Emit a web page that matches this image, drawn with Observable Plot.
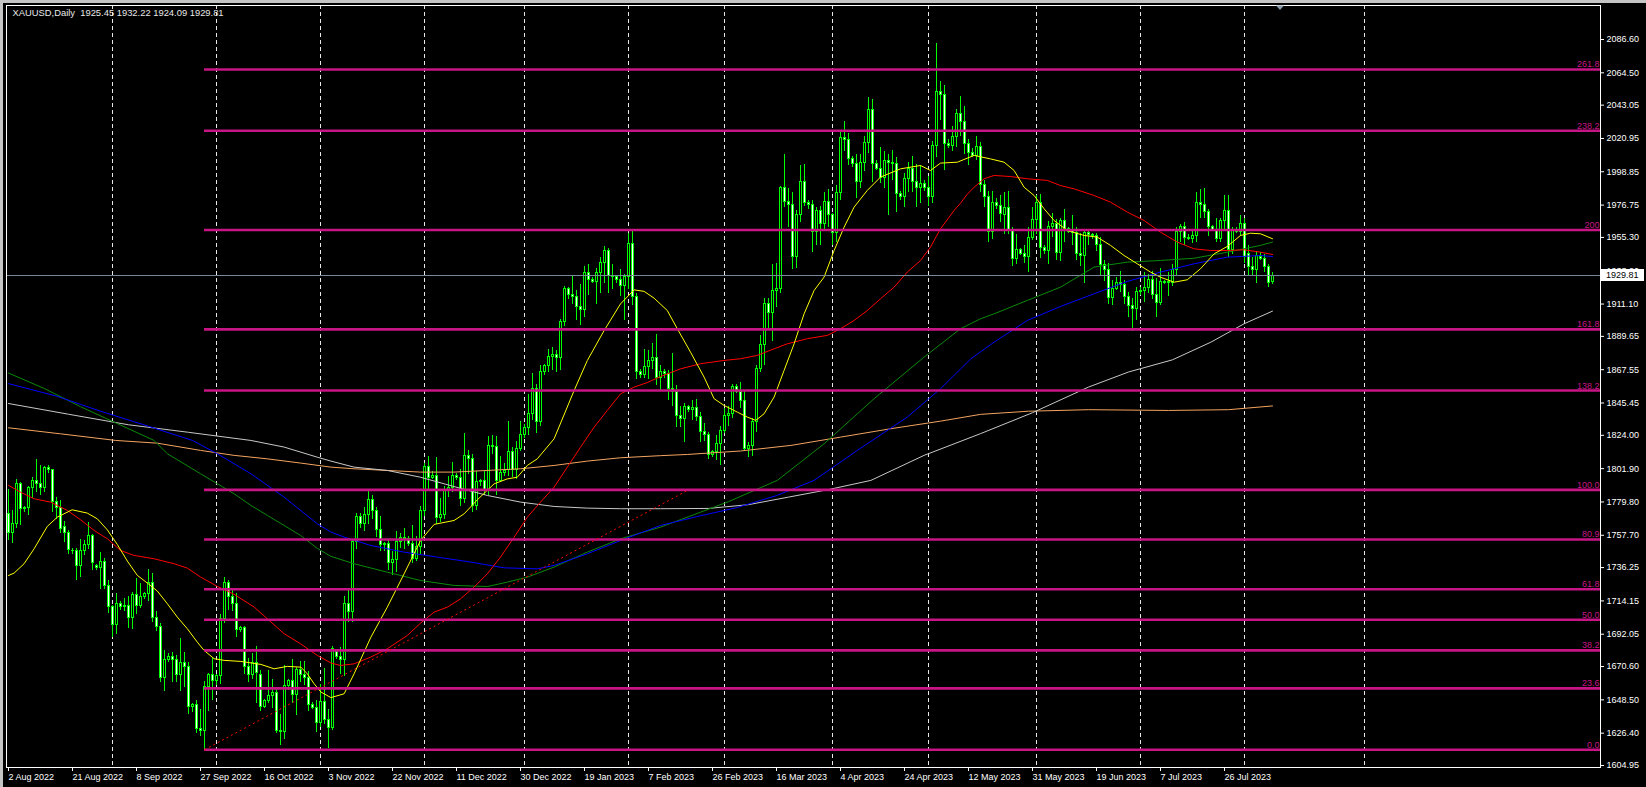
<!DOCTYPE html>
<html><head><meta charset="utf-8">
<script src="https://cdn.jsdelivr.net/npm/d3@7"></script>
<script src="https://cdn.jsdelivr.net/npm/@observablehq/plot@0.6"></script>
<style>
html,body{margin:0;padding:0;background:#000;overflow:hidden;}
#wrap{position:relative;width:1646px;height:787px;}
#wrap svg{position:absolute;left:0;top:0;}
.bt{position:absolute;left:0;top:0;width:1646px;height:3px;background:#c4c4c4;z-index:2;}
.bl{position:absolute;left:0;top:0;width:3px;height:787px;background:#c4c4c4;z-index:2;}
</style></head><body><div id="wrap"><div class="bt"></div><div class="bl"></div></div>
<script>
// ---------- DATA ----------
const titleText = "XAUUSD,Daily  1925.45 1932.22 1924.09 1929.81";

// Daily bars (bar index 0 = 2 Aug 2022 ... 316 = 9 Aug 2023)
const opens = [
1772,1759,1765,1792,1775,1776,1789,1794,1792,1789,1802,1801,1779.5,1776,1763,1759,1747,1747,1737,1747,
1751,1757,1737,1736,1740,1724,1710,1698,1712,1710,1711,1703,1718,1711,1717,1719,1726,1703,1697,1663,
1675,1677,1675,1665,1673,1670,1644,1645,1629,1628,1657,1665,1661,1664,1702,1726,1717,1712,1695,1696,
1670,1665,1673,1665,1644,1648,1651,1653,1628,1627,1658,1661,1652,1668,1665,1663,1645,1643,1633,1647,
1635,1630,1680,1677,1675,1712,1707,1753,1770,1765,1771,1781,1774,1761,1751,1752,1739,1741,1753,1756,
1755,1752,1742,1750,1774,1803,1796,1797,1769,1771,1788,1789,1797,1796,1782,1810,1808,1777,1793,1794,
1787,1817,1816,1794,1799,1801,1813,1801,1815,1824,1829,1838,1855,1833,1866,1870,1876,1877,1875,1899,
1921,1917,1916,1909,1907,1932,1927,1926,1932,1938,1946,1930,1929,1927,1923,1929,1951,1916,1866,1864,
1869,1873,1875,1862,1866,1865,1855,1853,1837,1835,1843,1841,1842,1836,1826,1824,1811,1813,1818,1827,
1837,1838,1856,1853,1847,1815,1817,1833,1868,1884,1911,1905,1920,1921,1988,1979,1977,1942,1970,1992,
1978,1977,1959,1973,1964,1979,1970,1958,1985,2021,2020,2007,2004,1992,2005,2018,2040,2004,2001,1995,
2006,2005,2004,1984,1982,1994,2001,1992,1988,1991,1988,1982,2016,2052,2050,2017,2016,2022,2037,2032,
2017,2011,2009,2015,1990,1982,1959,1978,1976,1970,1975,1960,1941,1947,1944,1942,1955,1967,1978,1948,
1946,1962,1964,1945,1966,1961,1960,1958,1944,1943,1958,1957,1956,1950,1937,1934,1915,1921,1925,1924,
1916,1910,1908,1919,1920,1922,1927,1917,1912,1926,1925,1925,1934,1959,1962,1955,1954,1956,1978,1977,
1972,1962,1960,1954,1966,1973,1947,1960,1959,1964,1944,1936,1934,1942,1941,1936,1925.45];
const highs = [
1788,1774,1795,1793,1777,1790,1796,1808,1804,1803,1804,1801.5,1783,1781,1767,1761,1749,1749,1755,1754,
1766,1758,1738,1746.5,1742,1728,1711,1719,1714,1716,1717,1720,1729,1726,1720,1735,1732,1707,1699,1681,
1679,1680,1678,1689,1680,1673,1646,1648,1642,1661,1666,1676,1665,1705,1730,1728,1721,1719,1697,1697,
1676,1679,1684,1668,1649,1668,1662,1656,1639,1671,1662,1675,1670,1674,1674,1667,1647,1648,1659,1669,
1642,1684,1682,1683,1717,1722,1755,1772,1772,1776,1787,1784,1776,1770,1753,1754,1747,1760,1759,1762,
1757,1764,1757,1777,1805,1810,1800,1809,1782,1790,1797,1806,1799,1801,1825,1814,1811,1800,1795,1800,
1823,1824,1823,1810,1805,1833,1816,1820,1833,1831,1851,1865,1858,1870,1871,1881,1882,1880,1901,1923,
1922,1930,1920,1924,1936,1937,1929,1935,1942,1949,1948,1937,1930,1934,1931,1958,1960,1918,1868,1881,
1880,1885,1891,1870,1868,1867,1878,1857,1843,1845,1844,1847,1848,1839,1832,1826,1814,1824,1830,1842,
1843,1858,1858,1859,1853,1819,1835,1870,1890,1915,1915,1937,1938,1989,2010,1988,1985,1973,2003,2004,
1980,1980,1975,1976,1985,1987,1971,1990,2026,2032,2024,2009,2010,2010,2022,2048,2047,2006,2015,2012,
2010,2013,2008,1986,1998,2005,2009,2004,2003,1993,1996,2019,2084,2059,2056,2020,2029,2040,2049,2042,
2020,2014,2022,2018,1993,1986,1986,1981,1983,1985,1986,1962,1957,1948,1950,1962,1975,1983,1984,1950,
1966,1971,1967,1968,1974,1962,1970,1962,1958,1960,1960,1958,1958,1955,1940,1938,1927,1929,1933,1927,
1919,1915,1922,1922,1932,1931,1933,1928,1935,1927,1932,1937,1962,1964,1965,1957,1959,1985,1987,1988,
1974,1963,1968,1968,1983,1983,1962,1962,1970,1968,1950,1942,1946,1945,1944,1937,1932.22];
const lows = [
1754,1752,1762,1764,1773,1771,1782,1786,1784,1786,1799,1773,1768,1759,1753,1745,1745,1728,1730,1744,
1748,1734,1734,1722,1722,1706,1690,1692,1708,1707,1696,1695,1705,1709,1715,1714,1700,1694,1660,1654,
1673,1660,1660,1654,1657,1639,1640,1626,1624,1615,1641,1648,1658,1659,1699,1708,1707,1690,1693,1665,
1660,1662,1646,1641,1643,1646,1643,1626,1618,1622,1655,1646,1638,1660,1658,1641,1642,1627,1630,1632,
1616.5,1628,1675,1665,1664,1700,1700,1748,1762,1760,1765,1768,1756,1747,1747,1734,1731,1733,1749,1748,
1750,1739,1740,1745,1770,1787,1795,1765,1766,1768,1783,1786,1794,1777,1779,1798,1773,1774,1790,1784,
1784,1811,1784,1793,1797,1797,1796,1795,1813,1822,1824,1834,1825,1830,1864,1866,1867,1866,1867,1896,
1914,1911,1900,1897,1902,1917,1925,1911,1918,1925,1918,1921,1925,1916,1900,1921,1910,1861,1862,1862,
1861,1868,1857,1853,1862,1847,1843,1829,1829,1819,1839,1834,1833,1819,1820,1808,1809,1807,1804,1825,
1830,1835,1852,1842,1813,1809,1810,1826,1866,1870,1895,1886,1909,1918,1975,1962,1934,1935,1965,1976,
1974,1945,1950,1950,1960,1962,1950,1952,1980,2012,2003,2002,1981,1988,1999,2011,1992,2000,1991,1988,
1970,1993,1972,1980,1975,1985,1985,1975,1978,1986,1976,1978,2008,2033,2000,2014,2012,2015,2022,2010,
2003,2008,2006,1985,1975,1952,1954,1974,1965,1957,1957,1936,1937,1943,1938,1932,1953,1957,1941,1944,
1937,1955,1940,1939,1952,1958,1950,1940,1936,1925,1950,1954,1946,1930,1926,1911,1910,1920,1919,1911,
1902,1893,1900,1917,1912,1918,1914,1902,1910,1924,1916,1923,1930,1952,1950,1953,1951,1952,1968,1968,
1956,1959,1952,1952,1960,1942,1944,1958,1956,1938,1930,1930,1925,1940,1932,1922,1924.09];
const closes = [
1759,1765,1792,1775,1776,1789,1794,1792,1789,1802,1801,1779.5,1776,1762,1759,1748,1747.5,1737,1747,1751,
1757,1739,1736,1740,1724,1710,1698,1712,1710,1711,1703,1718,1711,1717,1719,1726,1703,1697,1663,1675,
1677,1675,1665,1673,1670,1644,1645,1629,1628,1657,1665,1661,1664,1702,1726,1717,1712,1695,1696,1670,
1665,1673,1666,1644,1648,1651,1653,1628,1627,1658,1661,1652,1668,1665,1663,1645,1643,1633,1647,1635,
1630,1682,1677,1675,1712,1707,1753,1770,1765,1771,1781,1774,1761,1751,1752,1739,1741,1753,1756,1755,
1752,1742,1750,1774,1803,1796,1797,1769,1771,1788,1789,1797,1796,1782,1810,1808,1777,1793,1794,1787,
1817,1816,1794,1799,1800.5,1813,1801,1815,1824,1829,1838,1855,1833,1866,1870,1876,1877,1875,1899,1921,
1917,1916,1909,1907,1932,1927,1926,1932,1938,1946,1930,1929,1927,1923,1929,1951,1916,1866,1864,1869,
1873,1875,1862,1866,1865,1855,1853,1837,1835,1843,1841,1842,1836,1826,1824,1811,1813,1818,1827,1837,
1838,1856,1853,1847,1815,1817,1833,1868,1884,1911,1905,1920,1921,1988,1979,1977,1942,1970,1992,1978,
1977,1959,1973,1964,1979,1970,1958,1985,2021,2020,2007,2004,1992,2005,2018,2040,2004,2001,1995,2006,
2005,2004,1984,1982,1994,2001,1992,1988,1991,1988,1982,2016,2052,2050,2017,2016,2022,2037,2032,2017,
2011,2009,2015,1990,1982,1959,1978,1976,1971,1975,1960,1941,1947,1944,1942,1955,1967,1978,1948,1946,
1962,1964,1945,1966,1961,1959,1958,1944,1943,1958,1957,1956,1950,1937,1934,1915,1921,1925,1924,1916,
1910,1908,1919,1920,1922,1927,1917,1912,1926,1925,1925.6,1934,1959,1962,1955,1954,1956,1978,1977,1972,
1962,1960,1954,1966,1973,1947,1960,1959,1964,1942,1936,1934,1943,1941,1936,1925,1929.81];

// x-axis tick labels (every 16 bars)
const xTickBars = [0,16,32,48,64,80,96,112,128,144,160,176,192,208,224,240,256,272,288,304];
const xTickLabels = ["2 Aug 2022","21 Aug 2022","8 Sep 2022","27 Sep 2022","16 Oct 2022","3 Nov 2022",
  "22 Nov 2022","11 Dec 2022","30 Dec 2022","19 Jan 2023","7 Feb 2023","26 Feb 2023","16 Mar 2023",
  "4 Apr 2023","24 Apr 2023","12 May 2023","31 May 2023","19 Jun 2023","7 Jul 2023","26 Jul 2023"];
// y-axis tick labels
const yTicks = [2086.60,2064.50,2043.05,2020.95,1998.85,1976.75,1955.30,1933.20,1911.10,1889.65,1867.55,
  1845.45,1824.00,1801.90,1779.80,1757.70,1736.25,1714.15,1692.05,1670.60,1648.50,1626.40,1604.95];
// monthly separators (first bar of each month)
const gridBars = [26,52,78,104,129,155,179,206,230,257,283,309,339];

// Fibonacci retracement
const fibLabels = ["0.0","23.6","38.2","50.0","61.8","80.9","100.0","138.2","161.8","200","238.2","261.8"];
const fibPrices = [1615.4,1656.1,1681.3,1701.6,1721.9,1754.9,1787.8,1853.7,1894.3,1960.2,2026.1,2066.7];
const fibStartBar = 49;
const fibAnchorBars = [49, 170];
const fibAnchorPrices = [1615.4, 1787.8];

// moving averages: [bar, price]
const maYellow = [[0,1731],[1.4,1732.6],[3.9,1738.8],[6.4,1748.7],[9.7,1763.6],[12.2,1769.7],[15.9,1774.6],[19.7,1772.4],[22.2,1768.6],[24.7,1761.3],[27.2,1751.6],[29.7,1740.6],[32.2,1731.1],[34.7,1726],[37.2,1720.7],[39.7,1712.3],[42.2,1703.4],[44.7,1695.7],[47.2,1686.8],[48.9,1681.3],[51.4,1675.8],[53.9,1674.7],[58.1,1674],[63.1,1672],[66.4,1669.1],[69.7,1670.7],[73.1,1670.2],[74.7,1665.8],[76.4,1659.2],[78.1,1653.7],[80.6,1650],[83.9,1652.5],[86.4,1665.8],[90.6,1690.1],[94.7,1710],[98.9,1732.1],[103,1754.2],[106.4,1764.9],[111.4,1767.5],[113.9,1771.9],[117.2,1781.2],[121.4,1791.8],[124.7,1795.1],[127.2,1796.2],[129.7,1804],[132.2,1808.4],[136.4,1821.7],[141.4,1853.7],[144.7,1873.6],[148.9,1893.5],[153,1911.2],[156.4,1920.5],[158.9,1919.5],[161.4,1915],[164.7,1906.8],[167.2,1894.7],[170.5,1879.2],[173.9,1862.6],[176.4,1848.3],[178.9,1843.8],[182.2,1839.4],[184.7,1836.1],[186.8,1833.9],[188.9,1838.3],[191.4,1849.4],[193.9,1867.1],[196.4,1884.7],[198.9,1904.6],[201.4,1920.1],[203.9,1929],[206.4,1946.6],[208.9,1962.1],[211.4,1975.4],[214.7,1986.5],[218,1995.3],[223,2000.8],[228,2003],[230.5,1999.7],[233,2004.6],[237.2,2005.2],[241.4,2009.7],[245.5,2007.4],[248.9,2005.2],[251.4,1999.7],[253.9,1988.6],[256.4,1983.1],[258.9,1974.3],[261.4,1966.5],[264.7,1959.9],[268.9,1956.6],[272.2,1955.5],[275.5,1950],[278.9,1943.3],[282.2,1937.8],[285.5,1932.3],[288,1928.9],[291.4,1925.6],[294.7,1927.2],[298,1934.5],[301.4,1944.4],[304.7,1949.3],[308,1956.6],[310.5,1958.1],[313,1957.7],[316,1954.4]];
const maRed = [[0,1790.8],[3,1786.3],[6.4,1781.9],[10.5,1779.7],[14.7,1774.2],[18,1768],[21.4,1760.9],[24.7,1755.4],[28,1747.6],[31.4,1744.3],[36.4,1742.1],[41.4,1738.8],[44.7,1735.9],[48,1730],[52.2,1723.8],[56.4,1718.5],[61.4,1710.1],[64.7,1702.3],[68.9,1692.4],[73,1685.7],[77.2,1678],[80.6,1673],[83,1671.3],[86.4,1672.4],[90.6,1676.9],[94.7,1682.4],[99.7,1691.2],[103,1699.4],[106.4,1706.7],[109.7,1710],[113,1715.5],[116.4,1723.3],[119.7,1732.1],[123,1743.2],[126.4,1756.4],[129.7,1769.7],[133,1779.7],[136.4,1789.6],[139.7,1802.9],[143,1816.1],[146.4,1829.4],[149.7,1840.5],[153,1851.5],[156.4,1856],[159.7,1859],[163,1863],[168,1868.1],[173,1871.5],[178.9,1873.7],[183,1874.8],[187.2,1877],[191.4,1881.4],[194.7,1884.7],[199.7,1888.1],[204.7,1890.3],[208,1894.7],[211.4,1900.2],[214.7,1906.8],[218,1914.6],[221.4,1922.3],[224.7,1932.3],[228,1940],[230.5,1948.9],[233,1961],[236.4,1973.2],[238,1978],[239.7,1984],[241.4,1988.6],[243.9,1994.2],[246.4,1996.4],[250.5,1995.7],[254.7,1994.2],[259.7,1993.1],[263,1989.7],[266.4,1987.5],[271.4,1983.1],[275.5,1978.7],[279.7,1972.1],[283.9,1966.5],[288,1958.8],[292.2,1952.2],[296.4,1947.7],[300.5,1946.6],[304.7,1946.6],[308.9,1947.1],[313,1945.5],[316,1944]];
const maGreen = [[0,1865.3],[9,1855],[18,1843],[27,1832],[36.4,1820.6],[39.7,1811.8],[43.9,1805.1],[48,1798.5],[52.2,1791.9],[56.4,1785.2],[60.6,1777.5],[64.7,1770.9],[68.9,1764.2],[73,1757.6],[77.2,1749],[80.6,1743.7],[86.4,1738.8],[94.7,1733.2],[103,1727.7],[111.4,1724.4],[119.7,1723.7],[124.7,1726.6],[129.7,1729.9],[136.4,1736.6],[144.7,1746.5],[153,1755.3],[163,1763.1],[170,1770],[180,1780],[192.2,1794.1],[203.9,1818.4],[216.4,1848.3],[228.9,1875.9],[238,1894.7],[243,1901.3],[246.4,1904.6],[254.7,1913.5],[263,1922.3],[271.4,1935.6],[279.7,1938.9],[288,1940],[296.4,1941.5],[304.7,1945.5],[313,1950],[316,1952.2]];
const maBlue = [[0,1858.3],[12,1850],[23,1840],[35,1830],[46,1820.6],[52.2,1811.8],[60.6,1798.5],[68.9,1783],[77.2,1765.3],[80.6,1759.8],[83.9,1756.5],[90.6,1750.9],[98.9,1746.5],[107.2,1743.2],[115.6,1739.9],[123.9,1736.1],[132.2,1735.4],[136.4,1737.7],[144.7,1745.4],[153,1754.2],[163,1764.2],[172,1770],[182,1776],[192,1784],[201.4,1794.1],[212.2,1814],[224.7,1836.1],[233,1854.9],[240.6,1874.8],[246.4,1885.8],[254.7,1900.2],[263,1909.5],[271.4,1917.9],[279.7,1926.1],[288,1932.3],[296.4,1937.8],[304.7,1942.2],[313,1943.3],[316,1942.6]];
const maSilver = [[0,1845.1],[15,1838],[30,1831],[45,1826],[60.6,1820.6],[68.9,1816.2],[77.2,1809.5],[80.6,1806.9],[86.4,1802.9],[94.7,1800.7],[103,1796.2],[111.4,1790],[119.7,1784.1],[128,1779.7],[136.4,1776.8],[144.7,1775.7],[153,1775.3],[163,1775.3],[175,1775.5],[185,1778],[195,1783],[205,1788],[215.6,1794.1],[228.9,1810.7],[243,1825.1],[256,1839],[270,1856],[280,1866],[291,1874.1],[300.6,1885.8],[308.9,1898],[316,1906.4]];
const maOrange = [[0,1829],[13,1825],[26.8,1820.6],[37.2,1818.8],[48,1814],[56.4,1810.7],[64.7,1808.4],[73,1805.6],[80.6,1802.9],[86.4,1801.8],[94.7,1800.7],[103,1799.6],[111.4,1799.6],[119.7,1800.7],[128,1801.8],[136.4,1804],[144.7,1806.9],[153,1809.1],[163,1810.5],[169.7,1811.3],[183,1813.6],[195.6,1817.3],[208,1822.8],[220.6,1828.4],[233,1833.4],[243,1837.9],[255,1840],[270,1841],[290,1840.5],[305,1841],[316,1843.5]];

const chartShiftBar = 318;

// ---------- CHART ----------
const W = 1646, H = 787;
const xDomain = [-0.5, 398];
const yDomain = [1603.62, 2109.16];
const bars = opens.map((o, i) => ({i, open: o, high: highs[i], low: lows[i], close: closes[i]}));
const lastClose = closes[closes.length - 1];
const fib = fibPrices.map((p, k) => ({price: p, label: fibLabels[k], x1: fibStartBar, x2: xDomain[1]}));
const fibLink = [{x1: fibAnchorBars[0], y1: fibAnchorPrices[0], x2: fibAnchorBars[1], y2: fibAnchorPrices[1]}];
const xLabelMap = new Map(xTickBars.map((b, k) => [b, xTickLabels[k]]));
const maLine = (data, color) => Plot.line(data, {x: d => d[0], y: d => d[1], stroke: color, strokeWidth: 1});

const chart = Plot.plot({
  width: W, height: H,
  marginLeft: 6, marginRight: 46, marginTop: 5, marginBottom: 20,
  style: {background: "#000", color: "#fff", fontFamily: "'Liberation Sans', Arial, sans-serif", fontSize: "9px"},
  x: {type: "linear", domain: xDomain},
  y: {type: "linear", domain: yDomain},
  marks: [
    Plot.ruleX(gridBars, {x: d => d, stroke: "#e8e8e8", strokeDasharray: "4,3", shapeRendering: "crispEdges"}),
    Plot.ruleX(bars, {x: "i", y1: "low", y2: "high", stroke: "#00ff00", shapeRendering: "crispEdges"}),
    Plot.rect(bars, {x1: d => d.i - 0.25, x2: d => d.i + 0.25, y1: "open",
      y2: d => d.close === d.open ? d.close + 0.3 : d.close,
      fill: d => d.close >= d.open ? "#000" : "#fff", stroke: "#00ff00", shapeRendering: "crispEdges"}),
    maLine(maOrange, "#f4a460"),
    maLine(maSilver, "#c8c8c8"),
    maLine(maGreen, "#0a8a0a"),
    maLine(maBlue, "#0000ff"),
    maLine(maRed, "#ff0000"),
    maLine(maYellow, "#ffff00"),
    Plot.ruleY([lastClose], {y: d => d, stroke: "#778899", shapeRendering: "crispEdges"}),
    Plot.ruleY(fib, {x1: "x1", x2: "x2", y: "price", stroke: "#c71585", strokeWidth: 2.6}),
    Plot.link(fibLink, {x1: "x1", y1: "y1", x2: "x2", y2: "y2", stroke: "#ff0000", strokeDasharray: "2,3"}),
    Plot.text(fib, {x: "x2", y: "price", text: "label", textAnchor: "end", lineAnchor: "bottom", dx: -1, dy: -2, fill: "#c71585", fontSize: 9}),
    Plot.frame({stroke: "#ffffff"}),
    Plot.axisX({ticks: xTickBars, tickFormat: d => xLabelMap.get(d), anchor: "bottom", tickSize: 4, tickPadding: 2,
      textAnchor: "start", dx: 0, stroke: "#fff", fill: "#fff", label: null}),
    Plot.axisY({ticks: yTicks, tickFormat: d => d.toFixed(2), anchor: "right", tickSize: 3, tickPadding: 3,
      stroke: "#fff", fill: "#fff", label: null}),
    Plot.text([titleText], {text: d => d, frameAnchor: "top-left", textAnchor: "start", lineAnchor: "top",
      dx: 6, dy: 4, fill: "#e8e8e8", fontSize: 9.4})
  ]
});

// current price tag on the axis and chart-shift marker, positioned with Plot's scales
const sy = chart.scale("y"), sx = chart.scale("x");
const svg = d3.select(chart);
const yp = Math.round(sy.apply(lastClose));
const axX = W - 46;
const tag = svg.append("g").attr("font-family", "'Liberation Sans', Arial, sans-serif").attr("font-size", 9);
tag.append("rect").attr("x", axX + 1).attr("y", yp - 6).attr("width", 43).attr("height", 12).attr("fill", "#ffffff");
tag.append("text").attr("x", axX + 6).attr("y", yp + 3.3).attr("text-anchor", "start").attr("fill", "#000000")
  .text(lastClose.toFixed(2));
const tx = sx.apply(chartShiftBar);
svg.append("path").attr("d", `M${tx - 4},5.5 L${tx + 4},5.5 L${tx},10 Z`).attr("fill", "#8c9aa8");

document.getElementById("wrap").appendChild(chart);
</script></body></html>
